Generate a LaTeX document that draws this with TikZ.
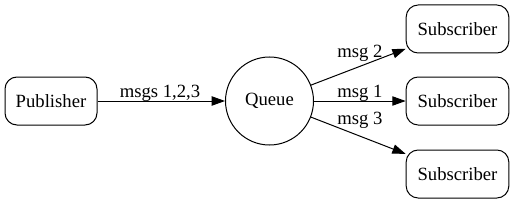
\documentclass[tikz,border=0pt]{standalone}
\usepackage{fontspec}
\setmainfont{Liberation Serif}
\usetikzlibrary{arrows.meta}
\begin{document}
\begin{tikzpicture}[x=0.75pt,y=-0.75pt,
  font=\fontsize{14pt}{16pt}\selectfont,
  box/.style={draw,line width=0.75pt,rounded corners=9pt,minimum height=36pt,inner sep=2pt},
  queue/.style={draw,line width=0.75pt,circle,minimum size=66pt,inner sep=0pt},
  conn/.style={draw,line width=0.75pt,-{Triangle[length=10pt,width=7pt]}},
  lbl/.style={anchor=base,inner sep=0pt}]
\useasboundingbox (0,0) rectangle (513,203);
\node[box,minimum width=69pt] (pub) at (51,101) {Publisher};
\node[queue] (q) at (269.5,101) {Queue};
\node[box,minimum width=77pt] (s1) at (457.5,29) {Subscriber};
\node[box,minimum width=77pt] (s2) at (457.5,101) {Subscriber};
\node[box,minimum width=77pt] (s3) at (457.5,174) {Subscriber};
\draw[conn] (pub) -- (q);
\draw[conn] (q) -- (s1);
\draw[conn] (q) -- (s2);
\draw[conn] (q) -- (s3);
\node[lbl] (l0) at (160,97) {msgs 1,2,3};
\node[lbl] (l2) at (360,57.5) {msg 2};
\node[lbl] (l1) at (360,97.5) {msg 1};
\node[lbl] (l3) at (360,124.5) {msg 3};
\end{tikzpicture}
\end{document}
